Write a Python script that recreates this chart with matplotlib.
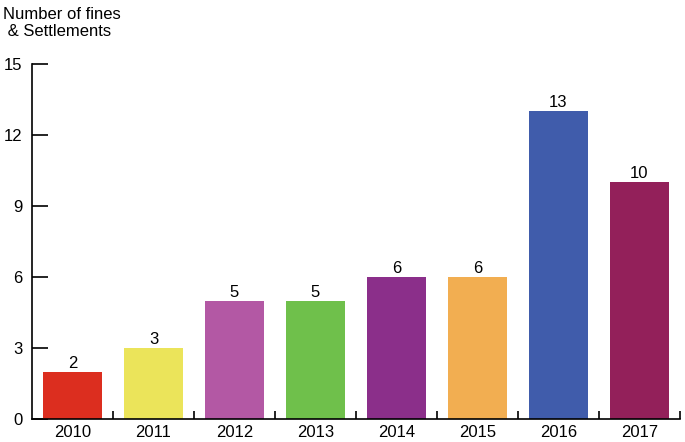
import matplotlib
matplotlib.use("Agg")
import matplotlib.pyplot as plt
import numpy as np

years = ["2010", "2011", "2012", "2013", "2014", "2015", "2016", "2017"]
counts = [2, 3, 5, 5, 6, 6, 13, 10]
colors = ["#dc2e1f", "#ebe45a", "#b358a4", "#6fc04b", "#8b2f8a", "#f2ae51", "#405cab", "#93205a"]
yticks = [0, 3, 6, 9, 12, 15]

plt.rcParams['font.family'] = ['Liberation Sans', 'DejaVu Sans']
fig = plt.figure(figsize=(6.85, 4.42), dpi=100)
ax = fig.add_axes([0.0467, 0.052, 0.946, 0.803])
x = np.arange(len(years))
ax.bar(x, counts, width=0.72, color=colors, zorder=2)
for xi, v in zip(x, counts):
    ax.text(xi, v + 0.05, str(v), ha='center', va='bottom', fontsize=12)

ax.set_xlim(-0.5, len(years) - 0.5)
ax.set_ylim(0, 15)
ax.set_yticks(yticks)
ax.set_yticklabels([str(t) for t in yticks], fontsize=12)
ax.tick_params(axis='y', direction='in', length=11.5, width=1.2, pad=7)
ax.set_xticks(x)
ax.set_xticklabels(years, fontsize=12)
ax.tick_params(axis='x', which='major', length=0, pad=4)
ax.set_xticks(np.arange(0.5, len(years), 1.0), minor=True)
ax.tick_params(axis='x', which='minor', direction='in', length=6, width=1.2)
for s in ['top', 'right']:
    ax.spines[s].set_visible(False)
for s in ['left', 'bottom']:
    ax.spines[s].set_linewidth(1.2)

fig.text(0.005, 0.985, "Number of fines\n & Settlements", ha='left', va='top', fontsize=12, linespacing=1.2)
fig.savefig("out.png", dpi=100)
